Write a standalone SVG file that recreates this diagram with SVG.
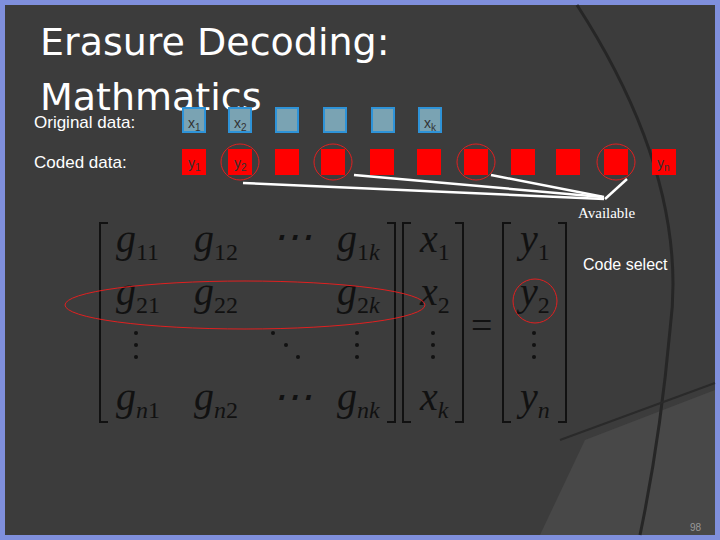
<svg xmlns="http://www.w3.org/2000/svg" width="720" height="540" viewBox="0 0 720 540">
<style>
.lbl{font-family:"Liberation Sans",Arial,sans-serif;fill:#fff}
.ttl{font-family:"DejaVu Sans","Liberation Sans",sans-serif;fill:#fff;font-size:38px}
.bx{fill:#7aa3b3;stroke:#2e93d8;stroke-width:2}
.rd{fill:#ff0000}
.bt{font-family:"Liberation Sans",Arial,sans-serif;font-size:14px;fill:#333}
.ring{fill:none;stroke:#e02020;stroke-width:1}
.m{font-family:"Liberation Serif","Times New Roman",serif;font-style:italic;font-size:40px;fill:#111}
.s{font-style:normal;font-size:24px}
.si{font-style:italic;font-size:24px}
.br{fill:none;stroke:#111;stroke-width:2}
.dot{fill:#111}
</style>
<rect x="0" y="0" width="720" height="540" fill="#7f8fdc"/>
<rect x="5" y="5" width="710" height="530" fill="#3c3c3c"/>
<path d="M585,440 L715,390 L715,535 L540,535 Z" fill="#484848"/>
<path d="M577,5 Q690,180 670,330 Q660,440 640,535" fill="none" stroke="#262626" stroke-width="3"/>
<path d="M560,440 L715,383" fill="none" stroke="#2a2a2a" stroke-width="2"/>
<text class="ttl" x="40" y="55">Erasure Decoding:</text>
<text class="ttl" x="40" y="110">Mathmatics</text>
<text class="lbl" x="34" y="128" font-size="17">Original data:</text>
<text class="lbl" x="34" y="168" font-size="17">Coded data:</text>
<g id="orig">
<rect class="bx" x="183" y="108" width="22" height="24"/><text class="bt" x="188" y="128">x<tspan font-size="10" dy="3">1</tspan></text>
<rect class="bx" x="229" y="108" width="22" height="24"/><text class="bt" x="234" y="128">x<tspan font-size="10" dy="3">2</tspan></text>
<rect class="bx" x="276" y="108" width="22" height="24"/>
<rect class="bx" x="324" y="108" width="22" height="24"/>
<rect class="bx" x="372" y="108" width="22" height="24"/>
<rect class="bx" x="419" y="108" width="22" height="24"/><text class="bt" x="424" y="128">x<tspan font-size="10" dy="3">k</tspan></text>
</g>
<g id="coded">
<rect class="rd" x="182" y="149" width="24" height="26"/><text class="bt" x="188" y="168">y<tspan font-size="10" dy="3">1</tspan></text>
<rect class="rd" x="228" y="149" width="24" height="26"/><text class="bt" x="234" y="168">y<tspan font-size="10" dy="3">2</tspan></text>
<rect class="rd" x="275" y="149" width="24" height="26"/>
<rect class="rd" x="321" y="149" width="24" height="26"/>
<rect class="rd" x="370" y="149" width="24" height="26"/>
<rect class="rd" x="417" y="149" width="24" height="26"/>
<rect class="rd" x="464" y="149" width="24" height="26"/>
<rect class="rd" x="511" y="149" width="24" height="26"/>
<rect class="rd" x="556" y="149" width="24" height="26"/>
<rect class="rd" x="604" y="149" width="24" height="26"/>
<rect class="rd" x="652" y="149" width="24" height="26"/><text class="bt" x="657" y="168">y<tspan font-size="10" dy="3">n</tspan></text>
<ellipse class="ring" cx="240" cy="162" rx="19" ry="18"/>
<ellipse class="ring" cx="333" cy="162" rx="19" ry="18"/>
<ellipse class="ring" cx="476" cy="162" rx="19" ry="18"/>
<ellipse class="ring" cx="616" cy="162" rx="19" ry="18"/>
</g>
<g id="connectors" stroke="#fff" stroke-width="2.5" fill="none">
<path d="M243,183 L604,199"/>
<path d="M354,175 L602,197"/>
<path d="M491,175 L604,197"/>
<path d="M627,179 L605,199"/>
</g>
<text x="578" y="218" font-family="Liberation Serif,serif" font-size="15" fill="#fff">Available</text>
<text class="lbl" x="583" y="270" font-size="16">Code select</text>
<g id="matrix">
<path class="br" d="M108,223 H100 V422 H108"/>
<path class="br" d="M387,223 H395 V422 H387"/>
<path class="br" d="M411,223 H403 V422 H411"/>
<path class="br" d="M455,223 H463 V422 H455"/>
<path class="br" d="M511,223 H503 V422 H511"/>
<path class="br" d="M558,223 H566 V422 H558"/>
<text class="m" x="116" y="252">g<tspan class="s" dy="8">11</tspan></text>
<text class="m" x="194" y="252">g<tspan class="s" dy="8">12</tspan></text>
<text class="m" x="272" y="250" font-style="normal" font-size="30">⋯</text>
<text class="m" x="337" y="252">g<tspan class="s" dy="8">1</tspan><tspan class="si">k</tspan></text>
<text class="m" x="116" y="305">g<tspan class="s" dy="8">21</tspan></text>
<text class="m" x="194" y="305">g<tspan class="s" dy="8">22</tspan></text>
<text class="m" x="337" y="305">g<tspan class="s" dy="8">2</tspan><tspan class="si">k</tspan></text>
<text class="m" x="116" y="410">g<tspan class="si" dy="8">n</tspan><tspan class="s">1</tspan></text>
<text class="m" x="194" y="410">g<tspan class="si" dy="8">n</tspan><tspan class="s">2</tspan></text>
<text class="m" x="272" y="410" font-style="normal" font-size="30">⋯</text>
<text class="m" x="337" y="410">g<tspan class="si" dy="8">nk</tspan></text>
<text class="m" x="420" y="252">x<tspan class="s" dy="8">1</tspan></text>
<text class="m" x="420" y="305">x<tspan class="s" dy="8">2</tspan></text>
<text class="m" x="420" y="410">x<tspan class="si" dy="8">k</tspan></text>
<text class="m" x="520" y="252">y<tspan class="s" dy="8">1</tspan></text>
<text class="m" x="520" y="305">y<tspan class="s" dy="8">2</tspan></text>
<text class="m" x="520" y="410">y<tspan class="si" dy="8">n</tspan></text>
<text x="471" y="338" font-family="Liberation Serif,serif" font-size="38" fill="#111">=</text>
<g class="dot">
<circle cx="136" cy="333" r="2"/><circle cx="136" cy="345" r="2"/><circle cx="136" cy="357" r="2"/>
<circle cx="273" cy="333" r="2"/><circle cx="286" cy="345" r="2"/><circle cx="298" cy="357" r="2"/>
<circle cx="357" cy="333" r="2"/><circle cx="357" cy="345" r="2"/><circle cx="357" cy="357" r="2"/>
<circle cx="433" cy="333" r="2"/><circle cx="433" cy="345" r="2"/><circle cx="433" cy="357" r="2"/>
<circle cx="534" cy="333" r="2"/><circle cx="534" cy="345" r="2"/><circle cx="534" cy="357" r="2"/>
</g>
<ellipse class="ring" cx="245" cy="305" rx="180" ry="24"/>
<circle class="ring" cx="535" cy="301" r="22"/>
</g>
<text x="690" y="531" font-family="Liberation Sans,sans-serif" font-size="10" fill="#999">98</text>
</svg>
